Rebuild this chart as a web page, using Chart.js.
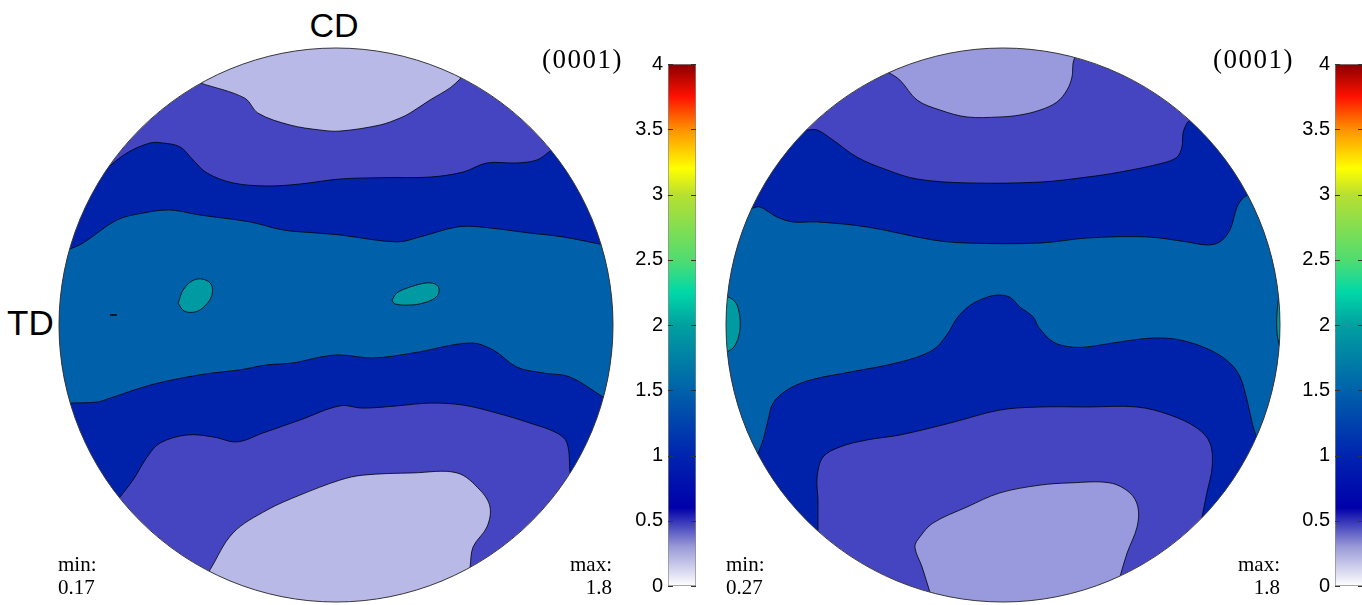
<!DOCTYPE html>
<html>
<head>
<meta charset="utf-8">
<script src="https://cdn.jsdelivr.net/npm/chart.js@4/dist/chart.umd.min.js"></script>
<style>
  html, body { margin: 0; padding: 0; background: #fff; }
  body { position: relative; width: 1362px; height: 605px; overflow: hidden; }
  canvas { position: absolute; }
  .lbl { position: absolute; color: #000; white-space: nowrap; line-height: 1; }
  .sans { font-family: "Liberation Sans", Arial, sans-serif; }
  .serif { font-family: "Liberation Serif", "Times New Roman", serif; }
  .plane { font-size: 27px; letter-spacing: 1.5px; }
  .stat { font-size: 21px; line-height: 23px; }
</style>
</head>
<body>
<canvas id="pfA" width="560" height="560" style="left:56px;top:45px"></canvas>
<canvas id="cbA" width="75" height="556" style="left:621px;top:47px"></canvas>
<canvas id="pfB" width="560" height="560" style="left:723px;top:45px"></canvas>
<canvas id="cbB" width="75" height="556" style="left:1288px;top:47px"></canvas>

<div class="lbl sans" style="left:284px;top:8px;width:100px;text-align:center;font-size:34px">CD</div>
<div class="lbl sans" style="left:7px;top:305px;font-size:35px">TD</div>
<div class="lbl serif plane" style="left:542px;top:46px">(0001)</div>
<div class="lbl serif plane" style="left:1213px;top:46px">(0001)</div>
<div class="lbl serif stat" style="left:58px;top:553px">min:<br>0.17</div>
<div class="lbl serif stat" style="left:512px;top:553px;width:100px;text-align:right">max:<br>1.8</div>
<div class="lbl serif stat" style="left:726px;top:553px">min:<br>0.27</div>
<div class="lbl serif stat" style="left:1180px;top:553px;width:100px;text-align:right">max:<br>1.8</div>

<script>
// colour bar
const cbarTicks = [0, 0.5, 1, 1.5, 2, 2.5, 3, 3.5, 4];
const cbarStops = [0, 0.3, 0.6, 1.0, 1.5, 2.0, 2.25, 2.5, 3.0, 3.2, 3.5, 3.75, 4.0];
const cbarColors = ['#ffffff', '#9a9ad8', '#0000aa', '#0024b0', '#0062aa', '#00a0a0',
  '#00d8a8', '#50dc70', '#b8e030', '#ffff00', '#ff9000', '#ff1000', '#880000'];

// contour lines of the pole figures, projection units (disc radius = 100),
// every line runs left to right and starts/ends on the rim
const colorsA = ['#b9b9e7', '#4545c2', '#0022ab', '#0060aa', '#009aa3'];
const capTopA = [[-49.1, 87.4], [-32.9, 81.9], [-28.2, 76.5], [-16.6, 72.2], [-5.8, 70.4], [1.4, 70.0],
  [15.9, 72.2], [23.1, 74.7], [26.7, 76.5], [33.9, 81.2], [41.2, 85.6], [44.8, 88.8]];
const darkTopA = [[-83.4, 56.0], [-75.5, 62.1], [-67.1, 65.7], [-62.5, 65.7], [-56.3, 64.3], [-51.6, 59.6],
  [-46.6, 54.9], [-37.2, 51.3], [-24.9, 50.2], [-13.0, 50.9], [1.4, 52.7], [17.0, 53.2], [33.9, 53.4],
  [45.8, 55.2], [54.5, 58.5], [65.3, 58.5], [72.6, 59.6], [77.3, 62.8]];
const steelTopA = [[-96.8, 27.1], [-91.3, 29.6], [-79.1, 37.9], [-69.7, 40.4], [-59.9, 41.5], [-49.1, 39.7],
  [-31.0, 37.2], [-19.1, 34.3], [-6.9, 33.2], [1.4, 32.5], [22.0, 30.0], [30.3, 31.8], [43.7, 35.4],
  [52.0, 35.4], [70.0, 33.2], [81.9, 31.8], [95.3, 29.2]];
const steelBottomA = [[-96.0, -28.2], [-86.3, -27.8], [-81.6, -26.4], [-67.1, -21.7], [-53.8, -18.8],
  [-44.4, -17.3], [-34.7, -16.2], [-24.9, -14.4], [-15.5, -13.7], [-5.8, -11.6], [1.4, -10.8],
  [13.4, -11.9], [27.8, -10.1], [48.4, -6.5], [56.7, -9.0], [65.3, -15.2], [74.7, -17.3],
  [84.5, -18.8], [96.4, -26.0]];
const darkBottomA = [[-78.0, -62.1], [-73.3, -56.0], [-68.2, -47.7], [-63.5, -42.6], [-53.8, -39.7],
  [-44.4, -40.4], [-35.7, -42.2], [-26.4, -39.0], [-13.0, -34.3], [1.4, -29.2], [9.7, -30.0],
  [22.0, -29.2], [33.9, -28.2], [45.8, -28.9], [58.1, -31.8], [70.0, -35.4], [79.8, -39.0],
  [83.4, -42.6], [84.5, -53.4]];
const capBottomA = [[-45.5, -88.4], [-37.2, -75.1], [-24.9, -66.8], [-13.0, -61.4], [1.4, -56.0],
  [9.7, -54.2], [27.8, -53.4], [43.7, -53.4], [52.0, -59.6], [55.6, -65.7], [54.5, -72.9],
  [49.5, -80.1], [48.4, -87.4]];
const spotsA = [
  [[-57.0, 7.9], [-55.2, 12.6], [-52.0, 15.9], [-48.4, 16.6], [-45.1, 14.8], [-44.8, 10.8],
    [-47.3, 6.9], [-50.9, 4.7], [-54.9, 5.1]],
  [[20.2, 9.0], [22.0, 11.6], [26.7, 13.7], [32.9, 15.2], [36.5, 14.4], [37.2, 11.9], [35.7, 9.7],
    [31.4, 7.9], [26.7, 7.2], [21.3, 7.6]]
];
const rimSpotsA = [];
const stubA = [[-81.6, 3.6], [-79.1, 3.6]];

const colorsB = ['#9999dd', '#4545c2', '#0022ab', '#0060aa', '#009aa3'];
const capTopB = [[-41.5, 91.3], [-37.2, 88.4], [-31.0, 81.2], [-22.7, 77.6], [-13.0, 75.1], [-1.1, 75.1],
  [6.1, 75.8], [13.4, 77.6], [19.5, 80.5], [23.1, 84.8], [24.9, 89.5], [25.3, 94.6], [26.0, 96.8]];
const darkTopB = [[-70.8, 70.4], [-67.1, 70.4], [-61.4, 66.8], [-52.7, 60.6], [-41.9, 56.0], [-31.0, 52.7],
  [-13.0, 51.3], [13.4, 51.6], [30.3, 53.4], [42.2, 55.2], [57.8, 58.5], [62.8, 60.6], [64.6, 64.3],
  [65.0, 69.3], [66.4, 72.9], [67.5, 74.0]];
const steelTopB = [[-90.6, 42.2], [-87.7, 42.6], [-81.6, 39.0], [-75.8, 37.2], [-67.1, 37.2], [-49.1, 35.4],
  [-25.3, 30.7], [-13.0, 29.6], [13.4, 29.6], [30.3, 31.4], [52.0, 31.8], [66.4, 30.0], [73.6, 28.9],
  [78.3, 30.0], [81.9, 34.3], [84.5, 42.6], [86.6, 45.8], [88.4, 46.9]];
const steelBottomB = [[-88.4, -46.2], [-86.6, -41.5], [-84.8, -34.3], [-83.0, -28.2], [-78.0, -23.5],
  [-69.7, -19.9], [-55.2, -17.0], [-37.2, -13.4], [-25.3, -9.0], [-19.9, -3.0], [-16.6, 2.5],
  [-12.0, 7.0], [-7.2, 9.5], [-2.2, 10.8], [2.5, 10.0], [6.1, 6.5], [10.8, 3.0], [13.0, -1.0],
  [18.1, -6.1], [24.2, -7.9], [30.3, -7.9], [42.2, -6.1], [54.2, -4.7], [63.9, -5.4], [74.7, -9.0],
  [81.9, -13.7], [85.6, -18.8], [88.1, -27.1], [90.3, -36.8], [91.7, -40.8]];
const darkBottomB = [[-66.8, -74.0], [-66.8, -63.2], [-67.1, -54.9], [-65.0, -47.7], [-58.8, -44.0],
  [-49.1, -41.5], [-37.2, -39.7], [-19.1, -35.4], [-1.1, -30.7], [13.4, -29.6], [30.3, -29.6],
  [48.4, -29.6], [60.3, -32.5], [70.0, -37.2], [74.7, -42.6], [75.5, -51.3], [73.6, -60.6],
  [71.8, -69.7]];
const capBottomB = [[-26.4, -96.4], [-29.2, -87.4], [-31.8, -80.1], [-30.0, -76.5], [-25.3, -71.5],
  [-13.0, -65.7], [-1.1, -60.6], [13.4, -57.8], [24.2, -57.0], [38.6, -57.0], [45.8, -60.6],
  [48.7, -65.7], [48.4, -72.9], [44.8, -82.3], [42.2, -91.0]];
const spotsB = [];
const rimSpotsB = [
  [[-99.5, 10.2], [-97.8, 9.4], [-96.0, 7.2], [-94.9, 1.8], [-95.3, -3.6], [-97.1, -7.9], [-99.5, -9.7]],
  [[99.5, 9.7], [99.0, 5.5], [98.8, 1.0], [99.0, -3.5], [99.7, -7.2]]
];
const stubB = [];

const pt = ([x, y]) => ({ x, y });
const outside = ([x, y]) => ({ x: x * 2, y: y * 2 });

// region cut off by a line that starts and ends on the rim, closed outside the disc
function cap(line) {
  const first = line[0];
  const last = line[line.length - 1];
  return [outside(first), pt(first), ...line.map(pt), pt(last), outside(last)];
}

// region between two rim-to-rim lines
function band(upper, lower) {
  const back = [...lower].reverse();
  return [...cap(upper), ...cap(back)];
}

const loop = (line) => [...line, line[0]].map(pt);

const discPlugin = {
  id: 'disc',
  beforeDatasetsDraw(chart, args, opts) {
    const { ctx, scales: { x, y } } = chart;
    const cx = x.getPixelForValue(0);
    const cy = y.getPixelForValue(0);
    const r = x.getPixelForValue(100) - cx;
    ctx.save();
    ctx.beginPath();
    ctx.arc(cx, cy, r, 0, Math.PI * 2);
    ctx.clip();
    ctx.fillStyle = opts.base;
    ctx.fill();
  },
  afterDatasetsDraw(chart) {
    const { ctx, scales: { x, y } } = chart;
    const cx = x.getPixelForValue(0);
    const cy = y.getPixelForValue(0);
    const r = x.getPixelForValue(100) - cx;
    ctx.restore();
    ctx.beginPath();
    ctx.arc(cx, cy, r, 0, Math.PI * 2);
    ctx.lineWidth = 1;
    ctx.strokeStyle = '#3a3a3a';
    ctx.stroke();
  },
};

function renderPoleFigure(canvasId, colors, lines) {
  const layers = [
    { data: cap(lines.capTop), color: colors[0] },
    { data: cap(lines.capBottom), color: colors[0] },
    { data: band(lines.darkTop, lines.darkBottom), color: colors[2] },
    { data: band(lines.steelTop, lines.steelBottom), color: colors[3] },
    ...lines.spots.map((s) => ({ data: loop(s), color: colors[4] })),
    ...lines.rimSpots.map((s) => ({ data: cap(s), color: colors[4] })),
  ];
  const datasets = layers.map((layer) => ({
    data: layer.data,
    showLine: true,
    fill: 'shape',
    backgroundColor: layer.color,
    borderColor: '#000',
    borderWidth: 0.8,
    pointRadius: 0,
    tension: 0.35,
  }));
  if (lines.stub.length) {
    datasets.push({
      data: lines.stub.map(pt),
      showLine: true,
      fill: false,
      borderColor: '#000',
      borderWidth: 1.6,
      pointRadius: 0,
    });
  }
  // Chart.js paints the first dataset last, so put the bottom layer at the end
  datasets.reverse();

  new Chart(document.getElementById(canvasId), {
    type: 'scatter',
    data: { datasets },
    options: {
      responsive: false,
      animation: false,
      events: [],
      layout: { padding: 3 },
      elements: { line: { capBezierPoints: false } },
      plugins: {
        legend: { display: false },
        tooltip: { enabled: false },
        disc: { base: colors[1] },
      },
      scales: {
        x: { type: 'linear', min: -100, max: 100, display: false },
        y: { type: 'linear', min: -100, max: 100, display: false },
      },
    },
    plugins: [discPlugin],
  });
}

function colormap(chart) {
  const area = chart.chartArea;
  if (!area) return cbarColors[0];
  const g = chart.ctx.createLinearGradient(0, area.bottom, 0, area.top);
  const top = cbarTicks[cbarTicks.length - 1];
  cbarStops.forEach((v, i) => g.addColorStop(v / top, cbarColors[i]));
  return g;
}

const innerTicks = {
  id: 'innerTicks',
  afterDatasetsDraw(chart) {
    const { ctx, chartArea: a, scales: { y } } = chart;
    ctx.save();
    ctx.strokeStyle = '#333';
    ctx.lineWidth = 1;
    ctx.beginPath();
    cbarTicks.forEach((v) => {
      const py = Math.round(y.getPixelForValue(v)) + 0.5;
      ctx.moveTo(a.left, py);
      ctx.lineTo(a.left + 5, py);
      ctx.moveTo(a.right - 5, py);
      ctx.lineTo(a.right, py);
    });
    ctx.stroke();
    ctx.restore();
  },
};

function renderColorbar(canvasId) {
  new Chart(document.getElementById(canvasId), {
    type: 'bar',
    data: {
      labels: [''],
      datasets: [{
        data: [[cbarTicks[0], cbarTicks[cbarTicks.length - 1]]],
        backgroundColor: (c) => colormap(c.chart),
        borderColor: '#8a8a8a',
        borderWidth: 1,
        borderSkipped: false,
        barPercentage: 1,
        categoryPercentage: 1,
      }],
    },
    options: {
      responsive: false,
      animation: false,
      events: [],
      layout: { autoPadding: false, padding: { top: 12, bottom: 12, left: 0, right: 0 } },
      plugins: { legend: { display: false }, tooltip: { enabled: false } },
      scales: {
        x: { display: false },
        y: {
          min: 0,
          max: 4,
          afterBuildTicks(scale) {
            scale.ticks = cbarTicks.map((v) => ({ value: v }));
          },
          afterFit(scale) {
            scale.width = 47;
          },
          grid: { display: false, drawTicks: false },
          border: { display: false },
          ticks: {
            padding: 5,
            color: '#000',
            font: { family: '"Liberation Sans", Arial, sans-serif', size: 20 },
            callback: (v) => String(v),
          },
        },
      },
    },
    plugins: [innerTicks],
  });
}

renderPoleFigure('pfA', colorsA, {
  capTop: capTopA, darkTop: darkTopA, steelTop: steelTopA,
  steelBottom: steelBottomA, darkBottom: darkBottomA, capBottom: capBottomA,
  spots: spotsA, rimSpots: rimSpotsA, stub: stubA,
});
renderPoleFigure('pfB', colorsB, {
  capTop: capTopB, darkTop: darkTopB, steelTop: steelTopB,
  steelBottom: steelBottomB, darkBottom: darkBottomB, capBottom: capBottomB,
  spots: spotsB, rimSpots: rimSpotsB, stub: stubB,
});
renderColorbar('cbA');
renderColorbar('cbB');
</script>
</body>
</html>
